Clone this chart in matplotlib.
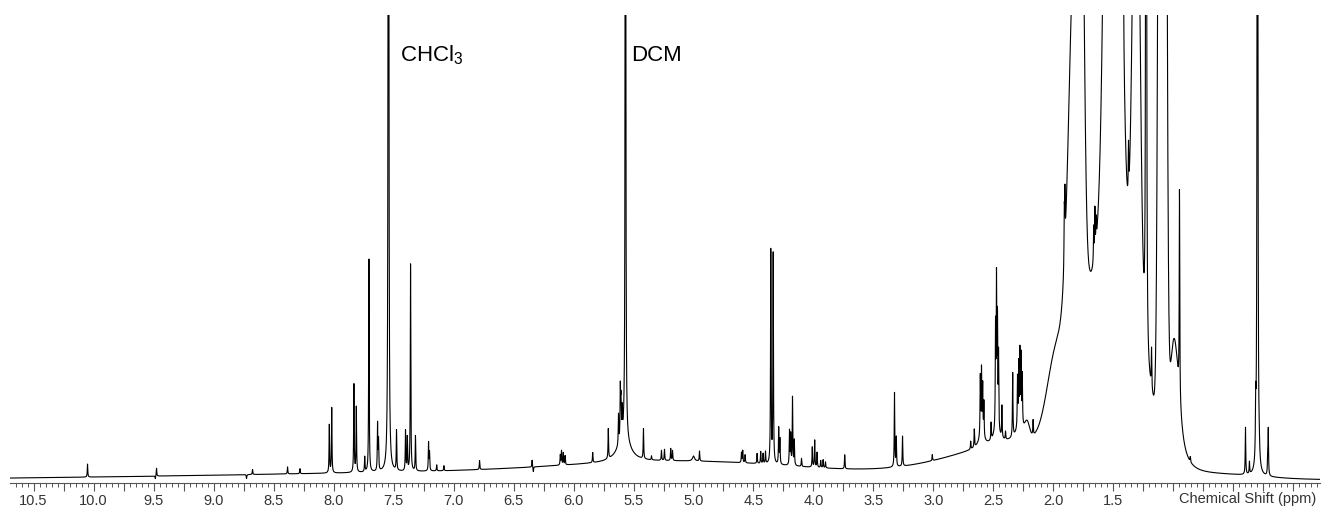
import numpy as np
import matplotlib
matplotlib.use("Agg")
import matplotlib.pyplot as plt
from matplotlib.ticker import MultipleLocator, FuncFormatter

plt.rcParams['font.family'] = ['Liberation Sans', 'DejaVu Sans']
plt.rcParams['mathtext.fontset'] = 'custom'
plt.rcParams['mathtext.rm'] = 'Liberation Sans'

# ---- sharp lines (Lorentzian): position (ppm), height, half-width (ppm)
line_ppm = [10.05, 9.475, 9.485, 8.725, 8.675, 8.383, 8.28,
            8.035, 8.015, 7.83, 7.81, 7.74, 7.705, 7.633, 7.625, 7.542, 7.475, 7.40, 7.385,
            7.358, 7.317, 7.208, 7.20, 7.14, 7.08, 6.783,
            6.345, 6.335, 6.11, 6.10, 6.085, 6.07, 5.84, 5.71, 5.625, 5.61, 5.605, 5.595,
            5.567, 5.417, 5.35, 5.267, 5.242, 5.19, 5.175, 5.0, 4.95,
            4.60, 4.59, 4.57, 4.47, 4.44, 4.42, 4.40, 4.356, 4.336, 4.29, 4.28,
            4.20, 4.19, 4.175, 4.16, 4.10, 4.01, 3.99, 3.97, 3.94, 3.92, 3.90, 3.74,
            3.325, 3.31, 3.258, 3.01, 2.69, 2.66, 2.61, 2.60, 2.59, 2.58, 2.52,
            2.483, 2.475, 2.467, 2.458, 2.43, 2.40, 2.34, 2.30, 2.29, 2.28, 2.27, 2.26, 2.17,
            1.91, 1.905, 1.665, 1.655, 1.645, 1.417, 1.375, 1.228, 1.183,
            0.95, 0.86, 0.40, 0.367, 0.315, 0.30, 0.285, 0.215, 0.21]
line_height = [13, 8, -3, -4, 5, 7, 5,
               48, 65, 88, 65, 15, 213, 47, 30, 2500, 40, 40, 33,
               207, 35, 28, 18, 6, 5, 9,
               7, -5, 10, 14, 12, 9, 10, 30, 30, 50, 35, 25,
               3000, 30, 4, 10, 11, 12, 10, 5, 10,
               10, 12, 8, 10, 12, 10, 12, 213, 210, 36, 25,
               34, 30, 68, 25, 8, 20, 27, 15, 7, 8, 6, 14,
               74, 29, 30, 6, 8, 18, 60, 65, 50, 35, 17,
               100, 144, 105, 75, 32, 8, 64, 50, 60, 72, 68, 50, 15,
               50, 55, 35, 45, 25, 60, 50, 3000, 40,
               207, 5, 47, 12, 50, 2500, 10, 18, 45]
line_width = [0.0025] * len(line_ppm)
for _i, _p in enumerate(line_ppm):
    if _p in (7.542,):
        line_width[_i] = 0.002
    if _p in (5.567,):
        line_width[_i] = 0.0015
    if _p in (1.228, 0.30):
        line_width[_i] = 0.002
    if _p in (5.0,):
        line_width[_i] = 0.01

# ---- broad Lorentzian features: position, height, half-width
blor_ppm = [5.58, 0.96, 2.60, 2.475, 2.28]
blor_height = [24, 50, 10, 12, 15]
blor_width = [0.06, 0.05, 0.03, 0.03, 0.04]

# ---- broad Gaussian envelope features: position, amplitude, sigma
gau_ppm = [6.5, 5.0, 2.2, 2.22, 1.5, 1.97, 1.82, 1.765, 1.505, 1.31, 1.092, 1.0, 0.6]
gau_amp = [8, 12, 36, 15, 260, 85, 435, 300, 1376, 560, 3280, 90, 4]
gau_sigma = [2.5, 1.0, 0.6, 0.02, 0.2, 0.08, 0.05, 0.02, 0.045, 0.028, 0.02, 0.03, 0.35]

# axis
x_lo, x_hi = 10.696, -0.221
major_labels = [10.5, 10.0, 9.5, 9.0, 8.5, 8.0, 7.5, 7.0, 6.5, 6.0, 5.5, 5.0,
                4.5, 4.0, 3.5, 3.0, 2.5, 2.0, 1.5]

ppm = np.linspace(x_lo, x_hi, 40000)
spec = np.zeros_like(ppm)
for c, h, w in zip(line_ppm, line_height, line_width):
    spec += h * w**2 / (w**2 + (ppm - c)**2)
for c, h, w in zip(blor_ppm, blor_height, blor_width):
    spec += h * w**2 / (w**2 + (ppm - c)**2)
for c, a, s in zip(gau_ppm, gau_amp, gau_sigma):
    spec += a * np.exp(-(ppm - c)**2 / (2 * s**2))

W, H = 1322, 511
fig = plt.figure(figsize=(W / 100, H / 100), dpi=100)
ax = fig.add_axes([10 / W, (H - 483) / H, 1310 / W, 468 / H])
ax.plot(ppm, spec, color='black', lw=0.8)
ax.set_xlim(x_lo, x_hi)
ax.set_ylim(-3, 465)

for side in ('top', 'left', 'right'):
    ax.spines[side].set_visible(False)
ax.spines['bottom'].set_color('#555555')
ax.spines['bottom'].set_linewidth(0.8)
ax.set_yticks([])

ax.xaxis.set_major_locator(MultipleLocator(0.25))
ax.xaxis.set_minor_locator(MultipleLocator(0.05))

def fmt(v, pos):
    for m in major_labels:
        if abs(v - m) < 1e-6:
            return f"{m:.1f}"
    return ""

ax.xaxis.set_major_formatter(FuncFormatter(fmt))
ax.tick_params(axis='x', which='major', length=6, width=0.8, color='#555555',
               labelsize=10.5, labelcolor='#333333', pad=2)
ax.tick_params(axis='x', which='minor', length=3, width=0.7, color='#555555')

fig.text(1316 / W, 1 - 499 / H, "Chemical Shift (ppm)", ha='right', va='center',
         fontsize=10.5, color='#333333')
fig.text(400 / W, 1 - 61 / H, r"CHCl$_\mathrm{3}$", ha='left', va='baseline', fontsize=16)
fig.text(631 / W, 1 - 61 / H, "DCM", ha='left', va='baseline', fontsize=16)

fig.savefig("out.png", dpi=100, facecolor='white')
